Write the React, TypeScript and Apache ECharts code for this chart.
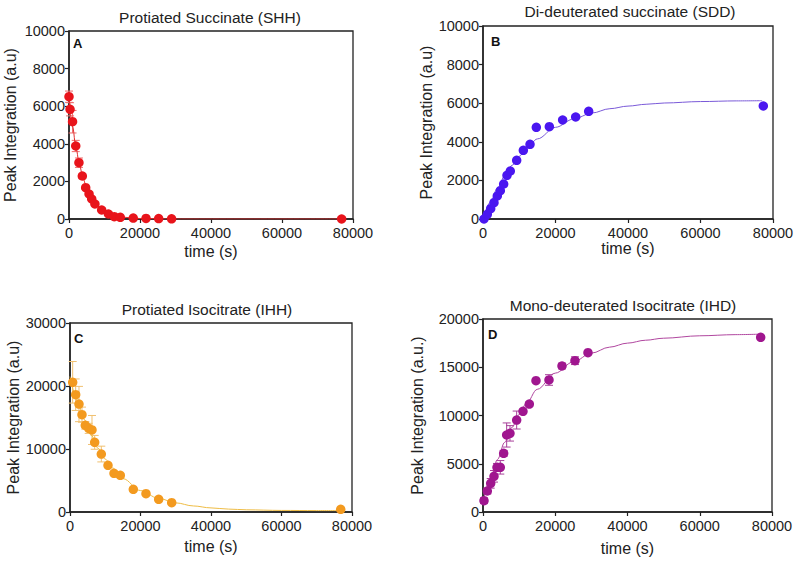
import React, { useEffect, useRef } from "react";
import * as echarts from "echarts";

// Panel A – Protiated Succinate (SHH)
const timeA = [0, 300, 1000, 1900, 2800, 3750, 4700, 5650, 6400, 7300, 9200, 11100, 12750, 14450, 18100, 21700, 25260, 28900, 76800];
const valA = [6505, 5835, 5176, 3883, 2995, 2287, 1666, 1330, 1064, 798, 479, 266, 122, 90, 50, 30, 20, 10, 0];
const errA = [300, 350, 600, 300, 250, 100, 80, 60, 50, 40, 30, 20, 10, 10, 0, 0, 0, 0, 0];
const fitTimeA = [0, 1000, 2000, 3000, 4000, 5000, 6000, 7000, 8000, 10000, 12000, 15000, 20000, 30000, 77000];
const fitA = [6500, 4920, 3730, 2820, 2140, 1620, 1230, 930, 700, 400, 230, 100, 25, 0, 0];

// Panel B – Di-deuterated succinate (SDD)
const timeB = [280, 1190, 2120, 3030, 3950, 4780, 5700, 6620, 7530, 9290, 11130, 12970, 14710, 18300, 21970, 25570, 29150, 77330];
const valB = [0, 243, 534, 845, 1192, 1466, 1813, 2264, 2487, 3041, 3560, 3870, 4751, 4782, 5130, 5285, 5580, 5855];
const fitTimeB = [0, 2000, 4000, 6000, 8000, 10000, 12000, 15000, 20000, 25000, 30000, 35000, 40000, 45000, 50000, 60000, 70000, 77000];
const fitB = [0, 860, 1600, 2230, 2780, 3250, 3650, 4150, 4750, 5180, 5490, 5715, 5850, 5945, 6010, 6085, 6120, 6130];

// Panel C – Protiated Isocitrate (IHH)
const timeC = [760, 1610, 2550, 3400, 4340, 5300, 6240, 7000, 8880, 10780, 12480, 14270, 17960, 21560, 25160, 28850, 76800];
const valC = [20587, 18620, 17140, 15450, 13760, 13280, 13020, 11060, 9200, 7410, 6140, 5820, 3600, 2910, 2010, 1480, 430];
const errC = [3300, 2500, 2800, 1200, 600, 800, 2300, 1100, 1250, 300, 300, 300, 200, 200, 200, 200, 100];
const fitTimeC = [0, 2000, 4000, 6000, 8000, 10000, 12000, 15000, 20000, 25000, 30000, 35000, 40000, 45000, 50000, 60000, 70000, 77000];
const fitC = [21500, 17800, 14700, 12200, 10100, 8400, 7000, 5300, 3400, 2200, 1450, 960, 650, 460, 350, 250, 225, 220];

// Panel D – Mono-deuterated Isocitrate (IHD)
const timeD = [280, 1190, 2130, 3045, 3875, 4790, 5720, 6550, 7470, 9320, 11070, 12820, 14670, 18270, 21870, 25460, 29060, 76870];
const valD = [1170, 2176, 2970, 3700, 4630, 4630, 6080, 7980, 8150, 9530, 10430, 11190, 13610, 13680, 15130, 15680, 16510, 18100];
const errD = [300, 300, 500, 600, 400, 700, 300, 1250, 800, 930, 200, 200, 200, 550, 300, 400, 200, 150];
const fitTimeD = [0, 2000, 4000, 6000, 8000, 10000, 12000, 15000, 20000, 25000, 30000, 35000, 40000, 45000, 50000, 60000, 70000, 77000];
const fitD = [1000, 3380, 5440, 7220, 8760, 10100, 11250, 12710, 14390, 15560, 16460, 17080, 17500, 17800, 18010, 18260, 18380, 18430];

const titles = [
  "Protiated Succinate (SHH)",
  "Di-deuterated succinate (SDD)",
  "Protiated Isocitrate (IHH)",
  "Mono-deuterated Isocitrate (IHD)",
];
const letters = ["A", "B", "C", "D"];
const yNames = ["Peak Integration (a.u)", "Peak Integration (a.u)", "Peak Integration (a.u)", "Peak Integration (a.u.)"];
const yMax = [10000, 10000, 30000, 20000];
const yStep = [2000, 2000, 10000, 5000];

const FONT = "Liberation Sans, Arial, Helvetica, sans-serif";

export default function App() {
  const ref = useRef<HTMLDivElement>(null);
  useEffect(() => {
    document.body.style.margin = "0";
    if (!ref.current) return;
    const chart = echarts.init(ref.current, undefined, { renderer: "svg" });

    const grids = [
      { left: 69, top: 31, width: 284, height: 188 },
      { left: 483, top: 26, width: 290, height: 193 },
      { left: 70, top: 323, width: 282, height: 189 },
      { left: 483, top: 319, width: 289, height: 193 },
    ];
    const yGaps = [51, 46, 49, 58];
    const xGaps = [24, 21, 26, 28];
    const scatterColors = ["#e8141b", "#4a16f0", "#f39a1f", "#a0168f"];
    const lineColors = ["#e03030", "#7a5ad8", "#eebc45", "#b0479f"];
    const errColors = ["#ee6a6a", "#7a5ad8", "#f0c070", "#a8409b"];

    const times = [timeA, timeB, timeC, timeD];
    const vals = [valA, valB, valC, valD];
    const errs = [errA, null, errC, errD];
    const fitTimes = [fitTimeA, fitTimeB, fitTimeC, fitTimeD];
    const fits = [fitA, fitB, fitC, fitD];

    const axisCommon = {
      axisLine: { show: true, lineStyle: { color: "#222", width: 1.5 } },
      axisTick: { show: true, inside: false, length: 4, lineStyle: { color: "#222", width: 1.2 } },
      splitLine: { show: false },
      nameLocation: "middle" as const,
      nameTextStyle: { color: "#222", fontSize: 16, fontFamily: FONT },
    };

    const series: any[] = [];
    for (let i = 0; i < 4; i++) {
      const e = errs[i];
      if (e) {
        const ed = times[i].map((t, k) => [t, vals[i][k], e[k]]);
        const col = errColors[i];
        series.push({
          type: "custom",
          xAxisIndex: i,
          yAxisIndex: i,
          z: 1,
          data: ed,
          encode: { x: 0, y: 1 },
          renderItem: (params: any, api: any) => {
            const x = api.value(0);
            const y = api.value(1);
            const er = api.value(2);
            if (!er) return { type: "group", children: [] };
            const top = api.coord([x, y + er]);
            const bot = api.coord([x, Math.max(0, y - er)]);
            const w = 4;
            return {
              type: "group",
              children: [
                { type: "line", shape: { x1: top[0], y1: top[1], x2: bot[0], y2: bot[1] }, style: { stroke: col, lineWidth: 1 } },
                { type: "line", shape: { x1: top[0] - w, y1: top[1], x2: top[0] + w, y2: top[1] }, style: { stroke: col, lineWidth: 1 } },
                { type: "line", shape: { x1: bot[0] - w, y1: bot[1], x2: bot[0] + w, y2: bot[1] }, style: { stroke: col, lineWidth: 1 } },
              ],
            };
          },
        });
      }
      series.push({
        type: "line",
        xAxisIndex: i,
        yAxisIndex: i,
        smooth: 0.35,
        smoothMonotone: "x",
        showSymbol: false,
        symbol: "none",
        z: 2,
        lineStyle: { color: lineColors[i], width: 1 },
        data: fitTimes[i].map((t, k) => [t, fits[i][k]]),
      });
      series.push({
        type: "scatter",
        xAxisIndex: i,
        yAxisIndex: i,
        symbolSize: 9.5,
        z: 3,
        itemStyle: { color: scatterColors[i], opacity: 1 },
        data: times[i].map((t, k) => [t, vals[i][k]]),
      });
    }

    const titleCenters = [
      [210, 17],
      [630, 11],
      [207, 309],
      [623, 305],
    ];
    const letterPos = [
      [73, 37],
      [491, 35],
      [74, 332],
      [488, 328],
    ];

    const graphic: any[] = [];
    for (let i = 0; i < 4; i++) {
      graphic.push({
        type: "text",
        x: titleCenters[i][0],
        y: titleCenters[i][1],
        style: {
          text: titles[i],
          fontSize: 15.5,
          fontFamily: FONT,
          fill: "#222",
          textAlign: "center",
          textVerticalAlign: "middle",
        },
      });
      graphic.push({
        type: "text",
        x: letterPos[i][0],
        y: letterPos[i][1],
        style: {
          text: letters[i],
          fontSize: 13,
          fontWeight: "bold",
          fontFamily: FONT,
          fill: "#111",
        },
      });
    }

    const fmt = (v: number) => String(v);

    chart.setOption({
      animation: false,
      backgroundColor: "#fff",
      grid: grids.map((g) => ({ ...g, show: true, borderColor: "#222", borderWidth: 1.3, backgroundColor: "transparent" })),
      xAxis: grids.map((_, i) => ({
        ...axisCommon,
        type: "value",
        gridIndex: i,
        min: 0,
        max: 80000,
        interval: 20000,
        name: "time (s)",
        nameGap: xGaps[i],
        axisLabel: { color: "#222", fontSize: 14.5, fontFamily: FONT, margin: 6, formatter: fmt },
      })),
      yAxis: grids.map((_, i) => ({
        ...axisCommon,
        type: "value",
        gridIndex: i,
        min: 0,
        max: yMax[i],
        interval: yStep[i],
        name: yNames[i],
        nameGap: yGaps[i],
        axisLabel: { color: "#222", fontSize: 14.5, fontFamily: FONT, margin: 4, formatter: fmt },
      })),
      series,
      graphic,
    });
    return () => chart.dispose();
  }, []);
  return <div ref={ref} style={{ width: 800, height: 564 }} />;
}
